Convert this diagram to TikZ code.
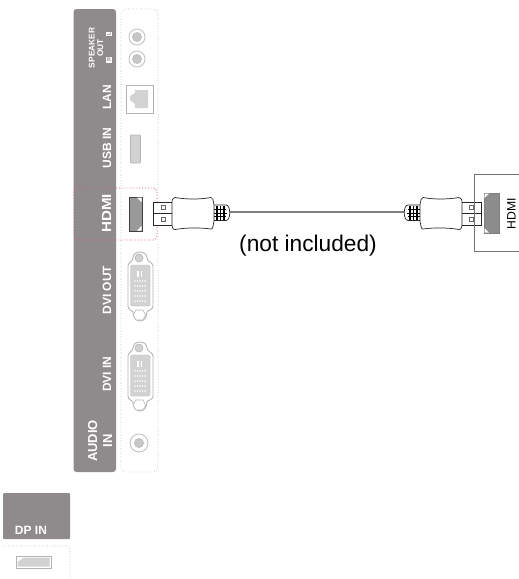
\documentclass[tikz,border=0pt]{standalone}
\usepackage{fontspec}
\setmainfont{Liberation Sans}
\definecolor{panelgray}{HTML}{8F8B8C}
\definecolor{portgray}{HTML}{B4B4B4}
\definecolor{portfill}{HTML}{D2D2D2}
\definecolor{markpink}{HTML}{E0559A}
\tikzset{
  lbl/.style={text=white,font=\bfseries\fontsize{12}{13}\selectfont,rotate=90,inner sep=0pt,align=center},
  tinybox/.style={fill=white,text=panelgray,font=\bfseries\fontsize{5.5}{6}\selectfont,rotate=90,inner sep=.7pt},
  plugline/.style={draw=black!85,line width=.7pt,fill=white},
  portline/.style={draw=portgray,line width=.9pt,fill=white},
  dotline/.style={draw=black!30,line width=.6pt,dotted},
  jack/.style={draw=black!25,line width=.8pt,fill=black!22}
}
% one hdmi plug, drawn for the left side
\newcommand{\hdmiplug}{
   \draw[plugline] (153,202) rectangle (173,225);
   \draw[plugline] (153,213.5) -- (173,213.5);
   \draw[draw=black!60,line width=.4pt] (161,205.5) rectangle (165,209.5);
   \draw[draw=black!60,line width=.4pt] (161,217.5) rectangle (165,221.5);
   \draw[plugline] (213,205) -- (226,205) .. controls (231,205) and (231,220.5) .. (226,220.5) -- (213,220.5) -- cycle;
   \draw[line width=1pt] (214,209.5) -- (226,209.5);
   \draw[line width=1pt] (214,213) -- (227,213);
   \draw[line width=1pt] (214,216.5) -- (226,216.5);
   \foreach \x in {217,220.5,224}
      \draw[line width=1.1pt] (\x,206) -- (\x,219.5);
   \draw[plugline] (175,197.5) .. controls (187,199.5) and (200,199.5) .. (211,197.5)
      .. controls (213,197.5) and (213,200) .. (214,205)
      -- (214,221) .. controls (213,226) and (213,229) .. (211,229)
      .. controls (200,227.5) and (187,227.5) .. (175,229.5)
      .. controls (172,229.5) and (172,226) .. (172,222)
      -- (172,205) .. controls (172,200) and (172,197.5) .. (175,197.5) -- cycle;
}
% dvi socket, #1 is the top of its upper bump
\newcommand{\dviport}[1]{
   \begin{scope}[shift={(140pt,-#1pt)}]
   \draw[portline] (-12,14) .. controls (-12,10) and (-7,10) .. (-7,6)
      .. controls (-7,-2) and (7,-2) .. (7,6) .. controls (7,10) and (13,10) .. (13,14)
      -- (13,54) .. controls (13,58) and (8,58) .. (7,60)
      .. controls (7,72) and (-7,72) .. (-7,60) .. controls (-8,58) and (-12,58) .. (-12,54) -- cycle;
   \draw[portline,fill=portfill,line width=.6pt] (-1,6) circle (4);
   \draw[portline,fill=white,line width=.6pt] (-7,63) -- (-4,58) -- (3,58) -- (5.5,63) -- (3,68) -- (-4,68) -- cycle;
   \draw[portline,fill=portfill,line width=.3pt,rounded corners=2] (-9.5,13) rectangle (10,54);
   \fill[white] (-3,19) rectangle (-1.5,25);
   \fill[white] (0.5,19) rectangle (2,25);
   \foreach \y in {29,34,39,44,49}
      \foreach \x in {-5,-2.5,0,2.5,5}
         \fill[white] (\x,\y) circle (.8);
   \end{scope}
}
\begin{document}
\begin{tikzpicture}[x=1pt,y=-1pt]
   \useasboundingbox (0,0) rectangle (519,579);

   % panels
   \fill[panelgray,rounded corners=3] (73.5,9) rectangle (116,472);
   \draw[dotline,rounded corners=5] (121,9) rectangle (158,472);

   \node[lbl,font=\bfseries\fontsize{8.3}{8.5}\selectfont] (speaker) at (96,48) {SPEAKER\\OUT};
   \node[tinybox] (speakerL) at (109,34) {L};
   \node[tinybox] (speakerR) at (109,60) {R};
   \node[lbl] (lan) at (107,97) {LAN};
   \node[lbl] (usbin) at (107,148) {USB IN};
   \node[lbl] (hdmiin) at (106.5,213.5) {\scalebox{1.26}[1.1]{HDMI}};
   \node[lbl] (dviout) at (107,290) {DVI OUT};
   \node[lbl] (dviin) at (107,374) {DVI IN};
   \node[lbl,font=\bfseries\fontsize{13}{15}\selectfont] (audioin) at (100,441) {AUDIO\\IN};

   % speaker and audio jacks
   \draw[jack,fill=white] (137,37) circle (8);
   \draw[jack] (137,37) circle (4.5);
   \draw[jack,fill=white] (137,59) circle (8);
   \draw[jack] (137,59) circle (4.5);
   \draw[jack,fill=white] (139,443) circle (9);
   \draw[jack] (139,443) circle (4.5);

   % lan
   \draw[portline,line width=.6pt] (126,85) rectangle (153,113);
   \fill[portfill] (135,90) -- (148,90) -- (148,108) -- (135,108) -- (135,104) -- (130,100) -- (130,96) -- (135,93) -- cycle;

   % usb
   \draw[portline,fill=portfill,rounded corners=1] (130.5,135) rectangle (140.5,163);

   % hdmi socket and mark
   \draw[draw=black!75,line width=.7pt,fill=black!40] (129,197) rectangle (142,231);
   \fill[white] (137,197.5) -- (141.5,197.5) -- (141.5,202) -- cycle;
   \fill[white] (137,230.5) -- (141.5,230.5) -- (141.5,226) -- cycle;
   \draw[markpink,line width=.9pt,dotted,rounded corners=4] (74,188) rectangle (157,240);

   % dvi
   \dviport{252}
   \dviport{342}

   % cable
   \coordinate (cableL) at (229,212);
   \coordinate (cableR) at (405,212);
   \draw[black!50,line width=2pt] (cableL) -- (cableR);
   \hdmiplug
   \begin{scope}[xshift=634pt,xscale=-1]
      \hdmiplug
   \end{scope}
   \node[font=\fontsize{22.7}{25}\selectfont,inner sep=0pt] (note) at (308,246) {(not included)};

   % monitor side
   \draw[black!55,line width=.7pt] (519,174) -- (474,174) -- (474,251) -- (519,251);
   \draw[draw=black!50,line width=.7pt,fill=black!45] (484,193) rectangle (499,233);
   \fill[white] (484.5,193.5) -- (489,193.5) -- (484.5,198) -- cycle;
   \fill[white] (484.5,232.5) -- (489,232.5) -- (484.5,228) -- cycle;
   \node[font=\fontsize{12.2}{13}\selectfont,rotate=90,inner sep=0pt] (hdmiout) at (511.5,213.5) {HDMI};

   % dp in
   \fill[panelgray,rounded corners=1] (3,493) rectangle (70,539);
   \node[lbl,rotate=-90] (dpin) at (31,530) {DP IN};
   \draw[dotline] (3,546) -- (66,546) arc[start angle=-90,end angle=0,radius=4] -- (70,579);
   \draw[portline,line width=.6pt] (16,556) rectangle (51,568);
   \fill[portfill] (24,557.5) -- (49.5,557.5) -- (49.5,566.5) -- (17.5,566.5) -- (17.5,562) -- cycle;
\end{tikzpicture}
\end{document}
